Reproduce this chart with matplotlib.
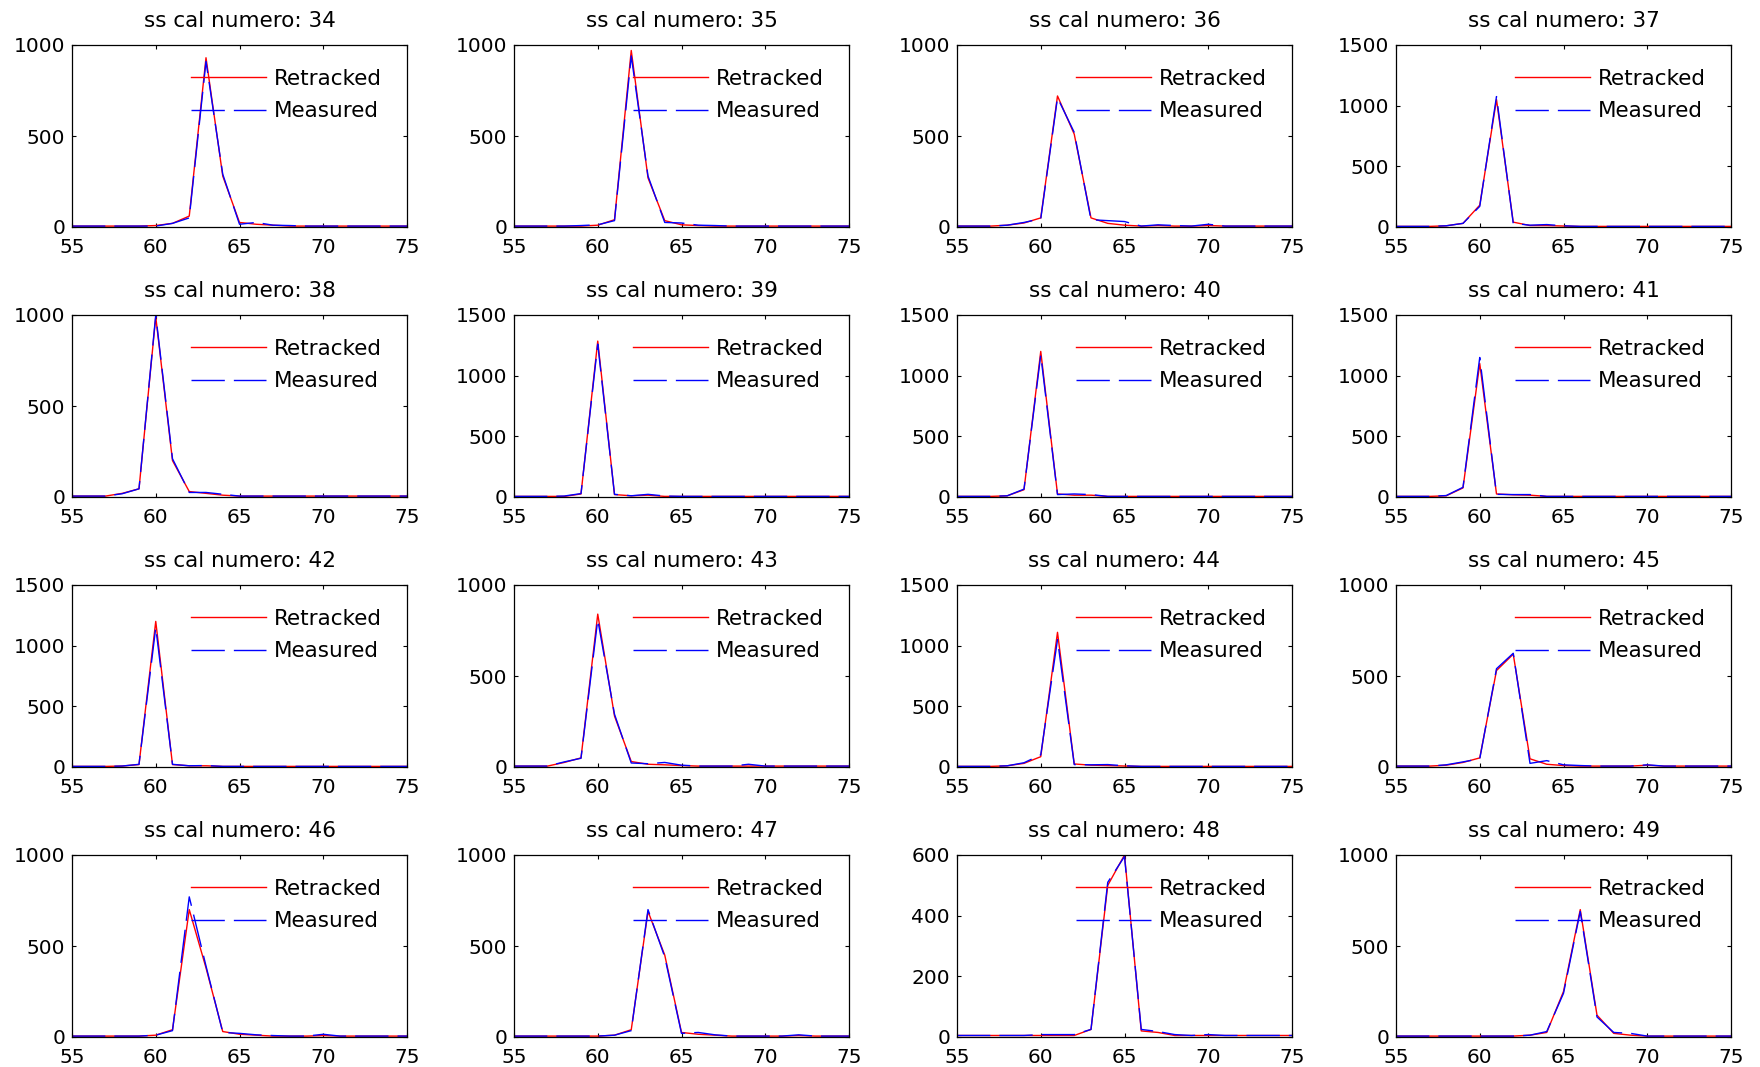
import matplotlib
matplotlib.use("Agg")
import matplotlib.pyplot as plt

plt.rcParams['font.family'] = ['DejaVu Sans']

x = list(range(55, 76))

panel_ids = [34, 35, 36, 37, 38, 39, 40, 41, 42, 43, 44, 45, 46, 47, 48, 49]
y_max = [1000, 1000, 1000, 1500, 1000, 1500, 1500, 1500, 1500, 1000, 1500, 1000, 1000, 1000, 600, 1000]

ret_34 = [5,5,5,5,5,8,20,60,930,280,25,15,10,5,5,5,5,5,5,5,5]
meas_34 = [5,5,5,5,5,5,20,50,910,290,15,25,10,8,5,5,5,5,5,5,5]
ret_35 = [5,5,5,5,5,10,40,970,270,35,12,8,5,5,5,5,5,5,5,5,5]
meas_35 = [5,5,5,5,8,12,35,940,280,25,22,10,8,5,5,5,5,5,5,5,5]
ret_36 = [5,5,5,10,22,50,720,510,50,20,10,5,8,5,5,8,5,5,5,5,5]
meas_36 = [5,5,5,10,25,45,710,520,40,35,30,5,12,8,5,15,5,5,5,5,5]
ret_37 = [5,5,5,10,30,180,1050,40,12,12,8,5,5,5,5,5,5,5,5,5,5]
meas_37 = [5,5,5,10,30,170,1075,30,15,20,10,5,5,5,5,5,5,5,5,5,5]
ret_38 = [5,5,5,20,45,990,200,30,20,10,5,5,5,5,5,5,5,5,5,5,5]
meas_38 = [5,5,5,18,45,1000,210,25,25,15,5,5,5,5,5,5,5,5,5,5,5]
ret_39 = [5,5,5,5,25,1285,20,10,15,5,5,5,5,5,5,5,5,5,5,5,5]
meas_39 = [5,5,5,8,28,1260,22,10,22,8,5,5,5,5,5,5,5,5,5,5,5]
ret_40 = [5,5,5,10,60,1200,25,15,15,5,5,5,5,5,5,5,5,5,5,5,5]
meas_40 = [5,5,5,10,65,1170,20,25,20,5,5,5,5,5,5,5,5,5,5,5,5]
ret_41 = [5,5,5,10,75,1100,25,18,15,5,5,5,5,5,5,5,5,5,5,5,5]
meas_41 = [5,5,5,12,80,1150,22,20,20,5,5,5,5,5,5,5,5,5,5,5,5]
ret_42 = [5,5,5,8,20,1200,20,10,10,5,5,5,5,5,5,5,5,5,5,5,5]
meas_42 = [5,5,5,8,22,1150,22,10,12,5,5,5,5,5,5,5,5,5,5,5,5]
ret_43 = [5,5,5,25,50,840,280,30,15,12,8,5,5,5,5,5,5,5,5,5,5]
meas_43 = [5,5,5,28,48,810,290,22,18,25,10,5,5,5,15,5,5,5,5,5,5]
ret_44 = [5,5,5,10,30,85,1110,25,15,12,8,5,5,5,5,5,5,5,5,5,5]
meas_44 = [5,5,5,10,35,100,1050,20,18,20,10,5,5,5,5,5,5,5,5,5,5]
ret_45 = [5,5,5,10,25,50,530,620,45,15,8,5,5,5,5,10,5,5,5,5,5]
meas_45 = [5,5,5,12,28,45,540,625,20,35,12,8,5,5,5,12,5,5,5,5,5]
ret_46 = [5,5,5,5,5,10,40,700,380,30,15,10,5,5,5,8,5,5,5,5,5]
meas_46 = [5,5,5,5,5,10,35,770,390,25,20,12,8,5,5,15,5,5,5,5,5]
ret_47 = [5,5,5,5,5,5,10,40,690,450,25,15,10,5,5,5,5,8,5,5,5]
meas_47 = [5,5,5,5,5,5,10,35,700,440,20,25,12,5,5,5,5,12,5,5,5]
ret_48 = [5,5,5,5,5,5,5,5,25,500,600,20,15,5,5,5,5,5,5,5,5]
meas_48 = [5,5,5,5,5,8,8,8,25,510,595,25,18,8,5,8,5,5,5,5,5]
ret_49 = [5,5,5,5,5,5,5,5,10,25,250,700,120,20,10,5,5,5,5,5,5]
meas_49 = [5,5,5,5,5,5,5,5,10,30,240,690,110,25,20,5,5,5,5,5,5]

retracked = [ret_34, ret_35, ret_36, ret_37, ret_38, ret_39, ret_40, ret_41,
             ret_42, ret_43, ret_44, ret_45, ret_46, ret_47, ret_48, ret_49]
measured = [meas_34, meas_35, meas_36, meas_37, meas_38, meas_39, meas_40, meas_41,
            meas_42, meas_43, meas_44, meas_45, meas_46, meas_47, meas_48, meas_49]

W, H = 1760, 1067
fig = plt.figure(figsize=(W / 100, H / 100), dpi=100)

col_left = [72, 514, 957, 1396]
row_top = [45, 315, 585, 855]
ax_w, ax_h = 335, 182

for i, pid in enumerate(panel_ids):
    r, c = divmod(i, 4)
    left = col_left[c] / W
    bottom = (H - row_top[r] - ax_h) / H
    ax = fig.add_axes([left, bottom, ax_w / W, ax_h / H])
    ax.plot(x, retracked[i], color='#ff0000', lw=1.0, label='Retracked')
    ax.plot(x, measured[i], color='#0000ff', lw=1.0, dashes=(24, 6.5), label='Measured')
    ax.set_xlim(55, 75)
    ax.set_ylim(0, y_max[i])
    ax.set_xticks([55, 60, 65, 70, 75])
    step = 200 if y_max[i] == 600 else 500
    ax.set_yticks(list(range(0, y_max[i] + 1, step)))
    ax.tick_params(direction='in', top=True, right=True, length=3, width=0.8,
                   labelsize=14.5, pad=5)
    ax.tick_params(axis='x', pad=8)
    for s in ax.spines.values():
        s.set_linewidth(0.9)
    ax.set_title('ss cal numero: %d' % pid, fontsize=15.5, pad=13)
    ax.legend(loc='upper left', bbox_to_anchor=(0.355, 0.868), frameon=False,
              fontsize=15.5, handlelength=3.5, handletextpad=0.33,
              labelspacing=0.56, borderpad=0, borderaxespad=0)

fig.savefig('out.png', dpi=100)
